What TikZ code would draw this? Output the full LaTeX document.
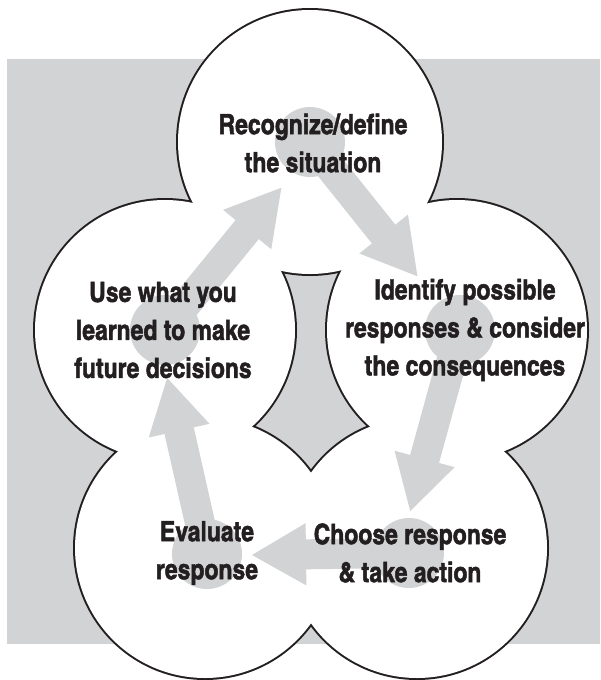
\documentclass[tikz,border=0pt]{standalone}
\usepackage{fontspec}
\newfontfamily\lblfont{texgyreheroscn-bold.otf}[FakeBold=1.6]
\usetikzlibrary{arrows.meta}
\definecolor{panel}{RGB}{209,211,212}
\definecolor{ink}{RGB}{35,31,32}
\tikzset{
  petal/.style={draw=ink, line width=4pt},
  petalfill/.style={fill=white},
  hub/.style={circle, fill=panel, minimum size=70pt, inner sep=0pt},
  flow/.style={draw=panel, line width=30pt, -{Triangle[width=58pt,length=55pt]}},
  lbl/.style={align=center, text=ink, font=\lblfont\fontsize{28}{38}\selectfont, inner sep=0pt}
}
\begin{document}
\begin{tikzpicture}[x=1pt,y=-1pt]
\useasboundingbox (0,0) rectangle (600,680);
% background panel
\fill[panel] (7,59) rectangle (600,644);
% petal centres
\coordinate (cT)  at (310,142);
\coordinate (cUL) at (165,330);
\coordinate (cUR) at (457,330);
\coordinate (cBL) at (205,548);
\coordinate (cBR) at (417,548);
% outlines first, then white fills so only the outer contour stays
\foreach \c in {cUL,cUR,cBL,cBR}
  \draw[petal] (\c) circle[radius=130pt];
\draw[petal] (cT) circle[radius=132pt];
\foreach \c in {cUL,cUR,cBL,cBR}
  \fill[petalfill] (\c) circle[radius=130pt];
\fill[petalfill] (cT) circle[radius=132pt];
% hubs behind the labels
\node[hub] (hT)  at (310,142) {};
\node[hub] (hUR) at (460,330) {};
\node[hub] (hBR) at (409,553) {};
\node[hub] (hBL) at (207,554) {};
\node[hub] (hUL) at (165,330) {};
% arrow tips
\coordinate (tT)  at (418,277);
\coordinate (tUR) at (410,512);
\coordinate (tBR) at (251,555);
\coordinate (tBL) at (167,377);
\coordinate (tUL) at (282,187);
\draw[flow] (hT.center)  -- (tT);
\draw[flow] (hUR.center) -- (tUR);
\draw[flow] (hBR.center) -- (tBR);
\draw[flow] (hBL.center) -- (tBL);
\draw[flow] (hUL.center) -- (tUL);
% labels
\node[lbl] (lT)  at (313,143) {Recognize/define\\the situation};
\node[lbl] (lUR) at (465,330) {Identify possible\\responses \& consider\\the consequences};
\node[lbl] (lBR) at (410,553) {Choose response\\\& take action};
\node[lbl] (lBL) at (207,553) {Evaluate\\response};
\node[lbl] (lUL) at (163,330) {Use what you\\learned to make\\future decisions};
\end{tikzpicture}
\end{document}
